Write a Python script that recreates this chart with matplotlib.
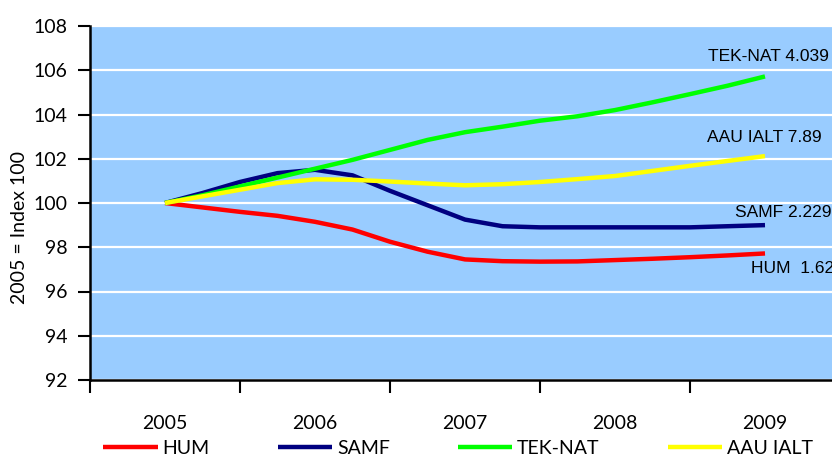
import numpy as np
import matplotlib
matplotlib.use("Agg")
import matplotlib.pyplot as plt

years = ["2005", "2006", "2007", "2008", "2009"]

# quarterly index values, 2005 = 100
hum = [100, 99.8, 99.6, 99.42, 99.15, 98.8, 98.25, 97.8, 97.45, 97.37,
       97.35, 97.36, 97.42, 97.48, 97.55, 97.63, 97.72]
samf = [100, 100.45, 100.95, 101.35, 101.5, 101.25, 100.55, 99.9, 99.25, 98.95,
        98.9, 98.9, 98.9, 98.9, 98.9, 98.95, 99.0]
teknat = [100, 100.35, 100.75, 101.15, 101.55, 101.95, 102.4, 102.85, 103.2, 103.45,
          103.72, 103.92, 104.2, 104.55, 104.92, 105.3, 105.72]
aau = [100, 100.3, 100.6, 100.9, 101.07, 101.05, 100.97, 100.88, 100.8, 100.85,
       100.95, 101.08, 101.22, 101.45, 101.68, 101.9, 102.12]

series = ["HUM", "SAMF", "TEK-NAT", "AAU IALT"]
end_labels = ["HUM  1.623", "SAMF 2.229", "TEK-NAT 4.039", "AAU IALT 7.89"]
colors = ["#FF0000", "#000080", "#00FF00", "#FFFF00"]

x = np.linspace(0, len(years) - 1, len(hum))

plt.rcParams['font.family'] = ['Lato', 'DejaVu Sans']

fig = plt.figure(figsize=(8.32, 4.62), dpi=100)
W, H = 832.0, 462.0
ax = fig.add_axes([90 / W, 1 - 380 / H, 750 / W, 354 / H])
ax.set_facecolor("#99CCFF")

for vals, c, name in zip([hum, samf, teknat, aau], colors, series):
    ax.plot(x, vals, color=c, linewidth=3.2, label=name, solid_joinstyle='round',
            solid_capstyle='butt')

ax.set_xlim(-0.5, len(years) - 0.5)
ax.set_ylim(92, 108)
ax.set_yticks(np.arange(92, 109, 2))
ax.yaxis.grid(True, color="white", linewidth=1.6)
ax.set_axisbelow(True)

ax.set_xticks(range(len(years)))
ax.set_xticklabels(years)
ax.set_xticks(np.arange(-0.5, len(years), 1), minor=True)
ax.tick_params(axis='x', which='major', length=0, pad=25, labelsize=14)
ax.tick_params(axis='x', which='minor', length=9, width=1.5, direction='out')
ax.tick_params(axis='y', length=9, width=1.5, direction='out', pad=7, labelsize=14)

for s in ["top", "right"]:
    ax.spines[s].set_visible(False)
for s in ["left", "bottom"]:
    ax.spines[s].set_linewidth(1.8)

ax.set_ylabel("2005 = Index 100", fontsize=14)
ax.yaxis.set_label_coords((28 - 90) / 750, 0.43)

# end-of-line labels
lab_pos = [(3.907, 97.02), (3.80, 99.59), (3.62, 106.6), (3.613, 102.98)]
for (tx, ty), t in zip(lab_pos, end_labels):
    ax.text(tx, ty, t, fontsize=12.5, family="Liberation Sans", va="center", ha="left")

fig.legend(loc="center", bbox_to_anchor=(458 / W, 1 - 448 / H), ncol=4, frameon=False,
           fontsize=14, handlelength=2.8, handletextpad=0.25, columnspacing=3.5)

fig.savefig("out.png", dpi=100)
